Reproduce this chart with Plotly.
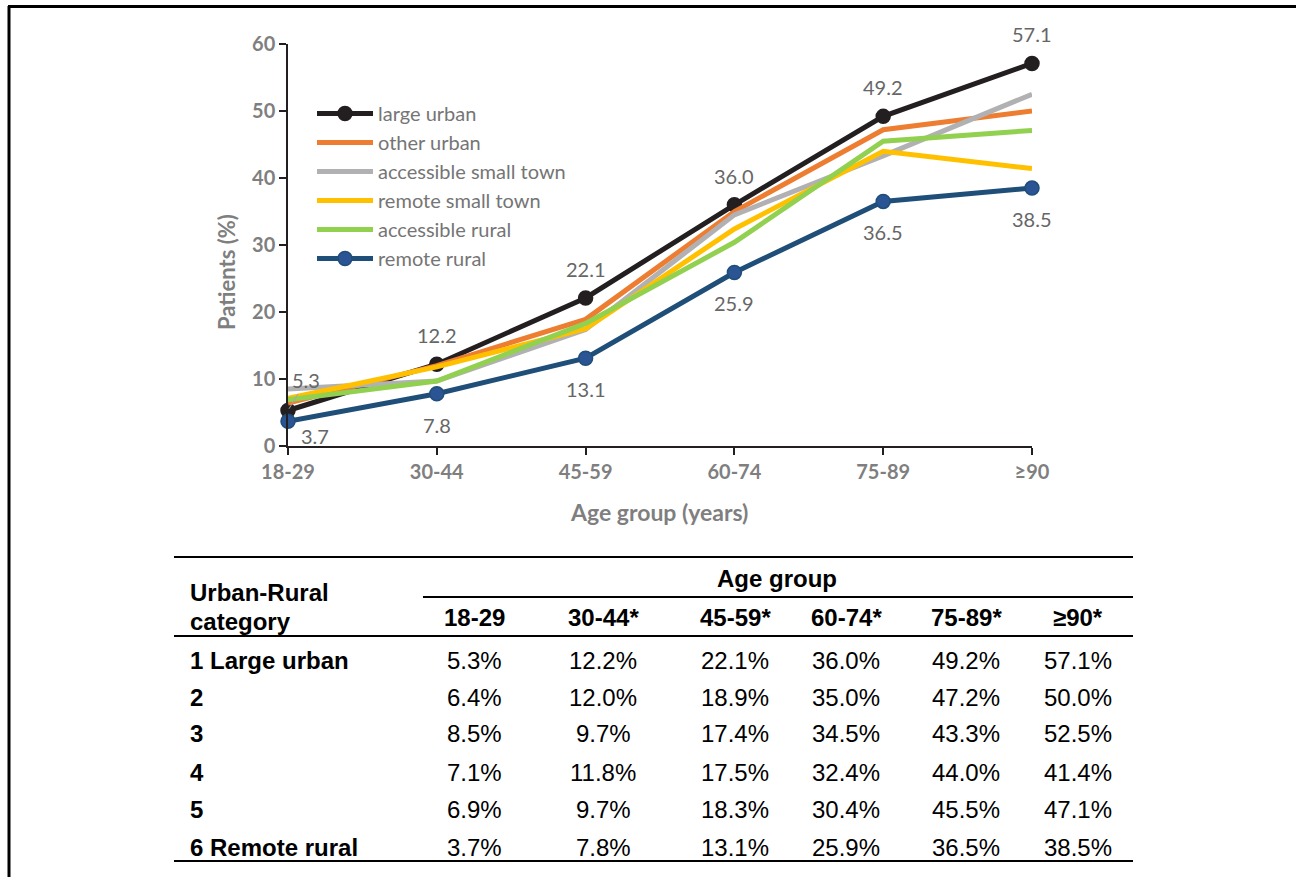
import plotly.graph_objects as go

# ---------------- data ----------------
age_groups = ["18-29", "30-44", "45-59", "60-74", "75-89", "≥90"]
table_headers = ["18-29", "30-44*", "45-59*", "60-74*", "75-89*", "≥90*"]

series_names = ["large urban", "other urban", "accessible small town",
                "remote small town", "accessible rural", "remote rural"]
table_labels = ["1 Large urban", "2", "3", "4", "5", "6 Remote rural"]

large_urban = [5.3, 12.2, 22.1, 36.0, 49.2, 57.1]
other_urban = [6.4, 12.0, 18.9, 35.0, 47.2, 50.0]
accessible_small_town = [8.5, 9.7, 17.4, 34.5, 43.3, 52.5]
remote_small_town = [7.1, 11.8, 17.5, 32.4, 44.0, 41.4]
accessible_rural = [6.9, 9.7, 18.3, 30.4, 45.5, 47.1]
remote_rural = [3.7, 7.8, 13.1, 25.9, 36.5, 38.5]

y_ticks = [0, 10, 20, 30, 40, 50, 60]

all_series = [large_urban, other_urban, accessible_small_town,
              remote_small_town, accessible_rural, remote_rural]

# ---------------- styles ----------------
line_colors = ["#231f20", "#ed7d31", "#b1b1b3", "#ffc000", "#92d050", "#1f4e79"]
marker_on = [True, False, False, False, False, True]
marker_fill = ["#231f20", None, None, None, None, "#2a5494"]

TICK_GRAY = "#7f7f7f"
LABEL_GRAY = "#666666"
CH_FONT = "Lato"
TB_FONT = "Liberation Sans"

W, H = 1296, 877
PL, PR, PT, PB = 288, 1032, 44, 446   # plot area in pixels


def px(X):
    return (X - PL) / (PR - PL)


def py(Y):
    return (PB - Y) / (PB - PT)


xs = list(range(len(age_groups)))

fig = go.Figure()
for name, vals, col, mk, mf in zip(series_names, all_series, line_colors,
                                    marker_on, marker_fill):
    fig.add_trace(go.Scatter(
        x=xs, y=vals, name=name,
        mode="lines+markers" if mk else "lines",
        line=dict(color=col, width=5),
        marker=dict(size=14, color=mf, line=dict(color=col, width=1.5)) if mk else None,
        cliponaxis=False,
    ))

annotations = []
shapes = []
LBL = dict(family=CH_FONT, size=20, color=LABEL_GRAY)

# data labels: large urban above, remote rural below
for i, v in enumerate(large_urban):
    if i == 0:
        annotations.append(dict(x=xs[i], y=v, xref="x", yref="y", text=f"{v:.1f}",
                                showarrow=True, arrowhead=0, arrowwidth=1,
                                arrowcolor="#a6a6a6", ax=18, ay=-30, standoff=2,
                                font=LBL))
    else:
        annotations.append(dict(x=xs[i], y=v, xref="x", yref="y", text=f"{v:.1f}",
                                showarrow=False, yshift=29, font=LBL))
for i, v in enumerate(remote_rural):
    annotations.append(dict(x=xs[i], y=v, xref="x", yref="y", text=f"{v:.1f}",
                            showarrow=False, yshift=-31 if i else -15,
                            xshift=0 if i else 27, font=LBL))

# axis titles
annotations.append(dict(x=px(226), y=py(272), xref="paper", yref="paper",
                        xanchor="center", yanchor="middle",
                        text="<b>Patients (%)</b>", textangle=-90, showarrow=False,
                        font=dict(family=CH_FONT, size=22, color=TICK_GRAY)))
annotations.append(dict(x=px(659), y=py(512), xref="paper", yref="paper",
                        xanchor="center", yanchor="middle",
                        text="<b>Age group (years)</b>", showarrow=False,
                        font=dict(family=CH_FONT, size=23, color=TICK_GRAY)))

# ---------------- table ----------------
col_centers = [474, 603, 735, 846, 966, 1078]
row_ys = [660, 697, 734, 772, 809, 847]
TB = dict(family=TB_FONT, size=24, color="#000000")


def tcell(X, Y, text, anchor="center"):
    return dict(x=px(X), y=py(Y), xref="paper", yref="paper", xanchor=anchor,
                yanchor="middle", text=text, showarrow=False, font=TB)


annotations.append(tcell(777, 578, "<b>Age group</b>"))
annotations.append(tcell(188, 592, "<b>Urban-Rural</b>", "left"))
annotations.append(tcell(188, 621, "<b>category</b>", "left"))
for hdr, cx in zip(table_headers, col_centers):
    annotations.append(tcell(cx, 617, f"<b>{hdr}</b>"))
for lab, vals, ry in zip(table_labels, all_series, row_ys):
    annotations.append(tcell(188, ry, f"<b>{lab}</b>", "left"))
    for v, cx in zip(vals, col_centers):
        annotations.append(tcell(cx, ry, f"{v:.1f}%"))

for (x0, x1, yy) in [(174, 1133, 557), (423, 1133, 597), (174, 1133, 636), (174, 1133, 861)]:
    shapes.append(dict(type="line", xref="paper", yref="paper",
                       x0=px(x0), x1=px(x1), y0=py(yy), y1=py(yy),
                       line=dict(color="#000000", width=1.8)))

# outer frame (top and left)
shapes.append(dict(type="line", xref="paper", yref="paper", x0=px(8), x1=px(1300),
                   y0=py(6.5), y1=py(6.5), line=dict(color="#000000", width=3)))
shapes.append(dict(type="line", xref="paper", yref="paper", x0=px(9), x1=px(9),
                   y0=py(6), y1=py(880), line=dict(color="#000000", width=3)))

TF = dict(family=CH_FONT, size=20, color=TICK_GRAY)
fig.update_layout(
    width=W, height=H,
    margin=dict(l=PL, r=W - PR, t=PT, b=H - PB, pad=0),
    paper_bgcolor="white", plot_bgcolor="white",
    showlegend=True,
    legend=dict(x=px(312), y=py(94), xanchor="left", yanchor="top",
                bgcolor="rgba(0,0,0,0)", tracegroupgap=0, itemwidth=56,
                font=dict(family=CH_FONT, size=20, color="#757575")),
    xaxis=dict(range=[0, len(age_groups) - 1], tickvals=xs,
               ticktext=[f"<b>{t}</b>" for t in age_groups],
               showgrid=False, zeroline=False, showline=True, linecolor="#231f20",
               linewidth=1.5, ticks="outside", ticklen=7, tickcolor="#231f20",
               tickwidth=1.5, tickfont=TF),
    yaxis=dict(range=[0, 60], tickvals=y_ticks,
               ticktext=[f"<b>{t}</b>" for t in y_ticks],
               showgrid=False, zeroline=False, showline=True,
               linecolor="#231f20", linewidth=1.5, ticks="outside", ticklen=7,
               tickcolor="#231f20", tickwidth=1.5, tickfont=TF),
    annotations=annotations,
    shapes=shapes,
)

fig.write_html("out.html", config={"displayModeBar": False},
               post_script="document.body.style.margin='0px';")
